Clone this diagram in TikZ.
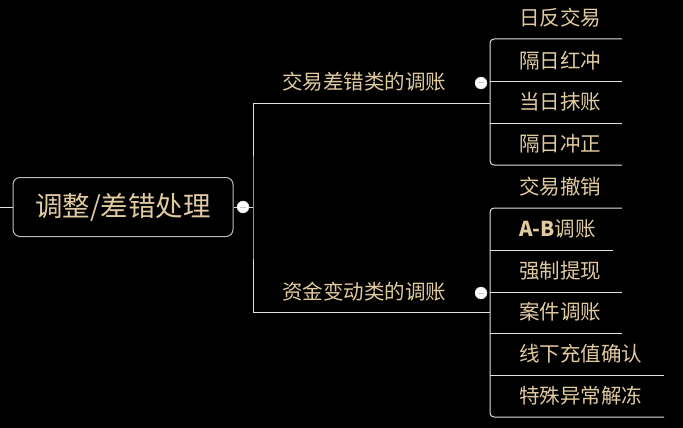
\documentclass[tikz,border=0pt]{standalone}
\usepackage{fontspec}
\setmainfont{Noto Sans CJK SC}
\usetikzlibrary{positioning}
\definecolor{txt}{RGB}{224,202,160}
\definecolor{boxgray}{RGB}{190,190,190}
\definecolor{linegray}{RGB}{225,225,225}

\tikzset{
  root/.style={draw=boxgray, line width=1pt, rounded corners=7pt, fill=black,
               minimum width=220pt, minimum height=59pt, inner sep=0,
               text=txt, font=\fontsize{27.5}{28}\selectfont},
  topic/.style={inner sep=0, text=txt, font=\fontsize{20.5}{21}\selectfont},
  leaf/.style={anchor=west, inner sep=0, text=txt, font=\fontsize{20.5}{21}\selectfont},
  edge/.style={draw=linegray, line width=1pt},
  fold/.style={circle, fill=white, draw=white!85!black, minimum size=12pt, inner sep=0,
               path picture={\draw[gray!45, line width=1pt]
                 ([xshift=-3pt]path picture bounding box.center) --
                 ([xshift=3pt]path picture bounding box.center);}}
}

\begin{document}
\begin{tikzpicture}[x=1pt, y=-1pt]
\fill[black] (0,0) rectangle (683,428);
\useasboundingbox (0,0) rectangle (683,428);

\node[root] (R) at (123,207) {调整/差错处理};
\coordinate (L) at (0,207);
\coordinate (B) at (253,207);

\node[topic] (T1) at (364,82) {交易差错类的调账};
\node[topic] (T2) at (364,292) {资金变动类的调账};
\coordinate (U1) at (490,103);
\coordinate (U2) at (490,312);

% upper branch
\node[leaf] (A0) at (519,18)  {日反交易};
\node[leaf] (A1) at (519,61)  {隔日红冲};
\node[leaf] (A2) at (519,102) {当日抹账};
\node[leaf] (A3) at (519,144) {隔日冲正};

% lower branch
\node[leaf] (B0) at (519,187) {交易撤销};
\node[leaf] (B1) at (519,229) {\textbf{A-B}调账};
\node[leaf] (B2) at (519,271) {强制提现};
\node[leaf] (B3) at (519,312) {案件调账};
\node[leaf] (B4) at (519,354) {线下充值确认};
\node[leaf] (B5) at (519,396) {特殊异常解冻};

\draw[edge] (L) -- (R.west);
\draw[edge] (R.east) -- (B);
\draw[edge] (U1) -| (B) |- (U2);

\draw[edge, rounded corners=4pt] ([shift={(103,21)}]A0.west) -- ([shift={(-29,21)}]A0.west)
  -- ([shift={(-29,21)}]A3.west) -- ([shift={(103,21)}]A3.west);
\draw[edge] ([shift={(-29,21)}]A1.west) -- ++(132,0);
\draw[edge] ([shift={(-29,21)}]A2.west) -- ++(132,0);

\draw[edge, rounded corners=4pt] ([shift={(103,21)}]B0.west) -- ([shift={(-29,21)}]B0.west)
  -- ([shift={(-29,21)}]B5.west) -- ([shift={(145,21)}]B5.west);
\draw[edge] ([shift={(-29,21)}]B1.west) -- ++(123,0);
\draw[edge] ([shift={(-29,21)}]B2.west) -- ++(132,0);
\draw[edge] ([shift={(-29,21)}]B3.west) -- ++(132,0);
\draw[edge] ([shift={(-29,21)}]B4.west) -- ++(174,0);

\node[fold] (F0) at (243,207) {};
\node[fold] (F1) at (481,83) {};
\node[fold] (F2) at (481,293) {};
\end{tikzpicture}
\end{document}
